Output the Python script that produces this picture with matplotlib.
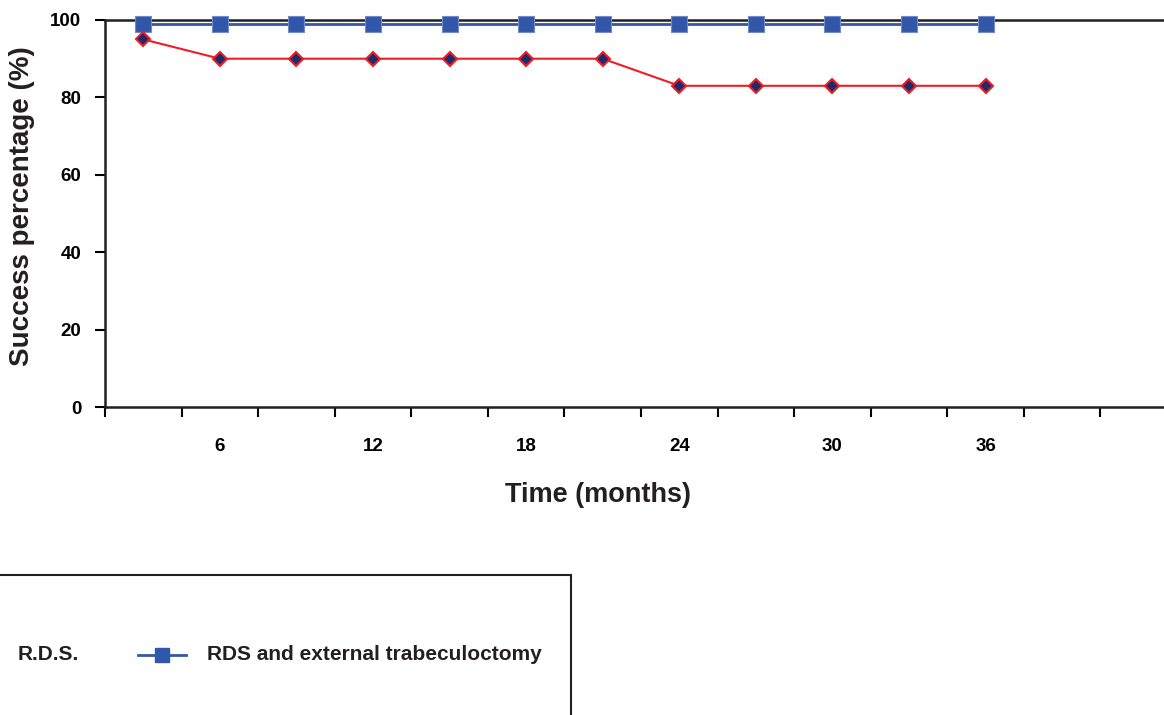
import matplotlib.pyplot as plt
from matplotlib.lines import Line2D
from matplotlib.patches import Rectangle

plt.rcParams['font.family'] = ['Liberation Sans', 'DejaVu Sans']
plt.rcParams['font.weight'] = 'bold'

# data
months = [3, 6, 9, 12, 15, 18, 21, 24, 27, 30, 33, 36]
rds_trab = [99, 99, 99, 99, 99, 99, 99, 99, 99, 99, 99, 99]
rds = [95, 90, 90, 90, 90, 90, 90, 83, 83, 83, 83, 83]
tick_labels = ['6', '12', '18', '24', '30', '36']

fig = plt.figure(figsize=(11.64, 7.15), dpi=100)
ax = fig.add_axes([105 / 1164, 1 - 407 / 715, 1 - 105 / 1164, 387 / 715])

idx = list(range(len(months)))
ax.plot(idx, rds_trab, color='#3357a8', lw=2, marker='s', ms=11.5,
        mfc='#3357a8', mec='#6f8cc8', mew=0.8, clip_on=False, zorder=3)
ax.plot(idx, rds, color='#ee1c25', lw=1.5, marker='D', ms=7.5,
        mfc='#1f2a6b', mec='#ee1c25', mew=1.5, clip_on=False, zorder=3)

ax.set_xlim(-0.5, 13.33)
ax.set_ylim(0, 100)
ax.set_xticks([i - 0.5 for i in range(14)])
ax.set_xticklabels([])
ax.set_xticks([1, 3, 5, 7, 9, 11], minor=True)
ax.set_xticklabels(tick_labels, minor=True)
ax.tick_params(axis='x', which='major', direction='out', length=7, width=1.5)
ax.tick_params(axis='x', which='minor', length=0, pad=22, labelsize=13.5)
ax.set_yticks([0, 20, 40, 60, 80, 100])
ax.tick_params(axis='y', direction='out', length=7, width=1.5, pad=10,
               labelsize=13.5)

for s in ['left', 'bottom', 'top']:
    ax.spines[s].set_linewidth(1.8)
    ax.spines[s].set_color('#231f20')
ax.spines['right'].set_visible(False)

fig.text(22 / 1164, 1 - 206 / 715, 'Success percentage (%)', rotation=90,
         ha='center', va='center', fontsize=20, fontweight='bold',
         color='#231f20')
fig.text(598 / 1164, 1 - 495 / 715, 'Time (months)', ha='center', va='center',
         fontsize=19.5, fontweight='bold', color='#231f20')

# legend box (cropped at the bottom)
fig.patches.append(Rectangle((-0.01, -0.1), 571 / 1164 + 0.01, 1.1 - 575 / 715,
                             transform=fig.transFigure, fill=False,
                             ec='#231f20', lw=1.5))
ly = 1 - 655 / 715
fig.text(18 / 1164, ly, 'R.D.S.', ha='left', va='center', fontsize=15,
         fontweight='bold', color='#231f20')
fig.lines.append(Line2D([138 / 1164, 186 / 1164], [ly, ly],
                        transform=fig.transFigure, color='#3357a8', lw=2))
fig.lines.append(Line2D([162 / 1164], [ly], transform=fig.transFigure,
                        marker='s', ms=10, mfc='#3357a8', mec='#3357a8'))
fig.text(207 / 1164, ly, 'RDS and external trabeculoctomy', ha='left',
         va='center', fontsize=15, fontweight='bold', color='#231f20')

fig.savefig('out.png', dpi=100)
